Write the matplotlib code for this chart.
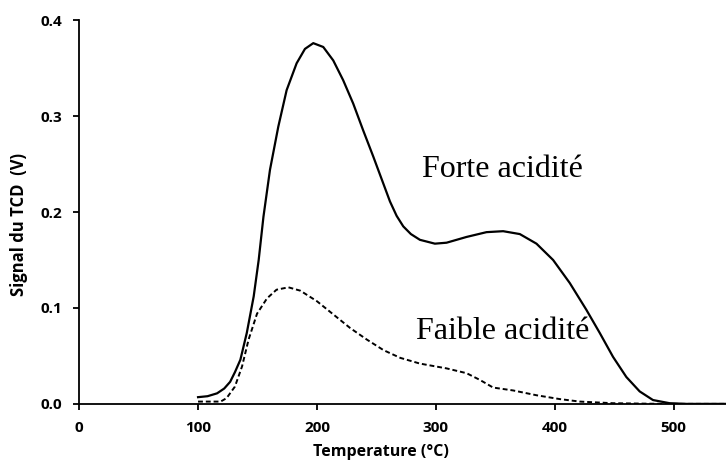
import matplotlib.pyplot as plt

# TPD NH3 - signal TCD
temp_forte = [100, 108, 116, 122, 127, 131, 135.6, 141, 146.8, 151, 155, 160.5, 167.5, 174.5,
              182.9, 189.9, 196.9, 205.3, 213.7, 222, 230.5, 238.9, 247.3, 255.7, 261.4, 267,
              272.6, 279, 286.6, 299.2, 309, 325.8, 342.6, 356.6, 370.6, 384.6, 398.6, 412.6,
              426.6, 437.8, 449, 460.2, 471.4, 482.6, 496.6, 510.6, 544]
signal_forte = [0.007, 0.008, 0.011, 0.016, 0.023, 0.033, 0.046, 0.074, 0.112, 0.150, 0.195,
                0.244, 0.289, 0.327, 0.355, 0.370, 0.376, 0.372, 0.358, 0.3375, 0.313, 0.285,
                0.258, 0.230, 0.211, 0.196, 0.185, 0.177, 0.171, 0.167, 0.168, 0.174, 0.179,
                0.180, 0.177, 0.167, 0.150, 0.126, 0.098, 0.074, 0.049, 0.028, 0.013, 0.004,
                0.0007, 0.0, 0.0]

temp_faible = [100, 119, 124, 131, 137, 142.5, 149.6, 158, 166, 176, 186, 200, 214, 228, 242,
               256, 270, 286.6, 309, 325.8, 337, 348.2, 365, 384.6, 404.2, 421, 449, 491, 544]
signal_faible = [0.0024, 0.0024, 0.006, 0.018, 0.039, 0.067, 0.094, 0.110, 0.119, 0.1215, 0.118,
                 0.107, 0.093, 0.079, 0.067, 0.056, 0.048, 0.042, 0.037, 0.032, 0.025, 0.017,
                 0.014, 0.009, 0.005, 0.0024, 0.0007, 0.0, 0.0]

xticks = [0, 100, 200, 300, 400, 500]
yticks = [0.0, 0.1, 0.2, 0.3, 0.4]

fig = plt.figure(figsize=(7.26, 4.68), dpi=100)
ax = fig.add_axes([0.109, 0.137, 0.891, 0.82])

ax.plot(temp_forte, signal_forte, color='black', lw=1.6, solid_joinstyle='round')
ax.plot(temp_faible, signal_faible, color='black', lw=1.4, ls=(0, (2.5, 1.5)))

ax.text(356, 0.244, 'Forte acidité', family='Liberation Serif', fontsize=23,
        ha='center', va='center')
ax.text(356, 0.075, 'Faible acidité', family='Liberation Serif', fontsize=23,
        ha='center', va='center')

ax.set_xlim(0, 544)
ax.set_ylim(0, 0.4)
ax.set_xticks(xticks)
ax.set_yticks(yticks)
ax.set_yticklabels([f'{v:.1f}' for v in yticks])

for s in ['top', 'right']:
    ax.spines[s].set_visible(False)
for s in ['left', 'bottom']:
    ax.spines[s].set_linewidth(1.3)

ax.tick_params(direction='out', length=4.3, width=1.3, labelsize=11, pad=8)
for lbl in ax.get_xticklabels() + ax.get_yticklabels():
    lbl.set_family('Open Sans')
    lbl.set_fontweight('bold')

ax.set_xlabel('Temperature (°C)', family='Open Sans', fontweight='bold', fontsize=11.5)
ax.set_ylabel('Signal du TCD  (V)', family='Open Sans', fontweight='bold', fontsize=12)
ax.xaxis.set_label_coords(0.467, -0.105)
ax.yaxis.set_label_coords(-0.079, 0.467)

fig.savefig('out.png', dpi=100)
